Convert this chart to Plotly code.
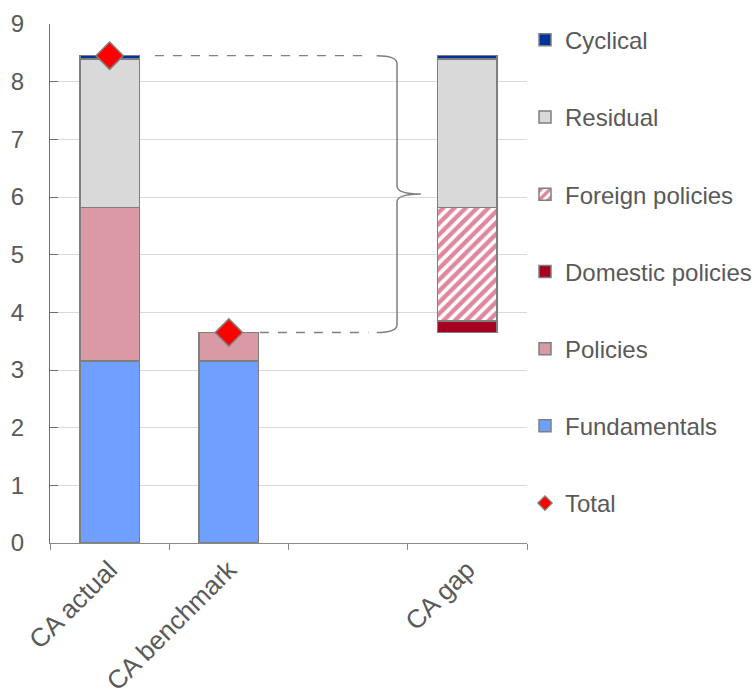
import plotly.graph_objects as go

# Current-account decomposition (% of GDP)
categories = ["CA actual", "CA benchmark", " ", "CA gap"]

gap_base = [None, None, None, 3.65]          # gap bar floats on the benchmark total
fundamentals = [3.16, 3.16, None, None]
policies = [2.66, 0.49, None, None]
domestic_policies = [None, None, None, 0.20]
foreign_policies = [None, None, None, 1.97]
residual = [2.57, None, None, 2.57]
cyclical = [0.06, None, None, 0.06]
total = [8.45, 3.65, None, None]

GRID = "#d9d9d9"
AXIS = "#898989"
EDGE = "#7f7f7f"
TEXT = "#595959"
FONT = "Liberation Sans, Arial, sans-serif"
FS = 24

fig = go.Figure()

fig.add_trace(go.Bar(
    x=categories, y=gap_base, showlegend=False, hoverinfo="skip",
    marker=dict(color="rgba(0,0,0,0)", line=dict(width=0)),
))


def add_bar(name, values, rank, color, pattern=None):
    marker = dict(color=color, line=dict(color=EDGE, width=1.5))
    if pattern:
        marker["pattern"] = pattern
    fig.add_trace(go.Bar(
        x=categories, y=values, name=name, marker=marker,
        legendgroup=name, legendrank=rank,
    ))


add_bar("Fundamentals", fundamentals, 6, "#70a0ff")
add_bar("Policies", policies, 5, "#d99aa5")
add_bar("Domestic policies", domestic_policies, 4, "#a50021")
add_bar("Foreign policies", foreign_policies, 3, "#ffffff",
        pattern=dict(shape="/", fgcolor="#bf1038", bgcolor="#ffffff",
                     size=8, solidity=0.55, fillmode="overlay"))
add_bar("Residual", residual, 2, "#d9d9d9")
add_bar("Cyclical", cyclical, 1, "#003399")

# Totals drawn as large diamonds; a smaller twin carries the legend entry
fig.add_trace(go.Scatter(
    x=categories, y=total, name="Total", mode="markers", showlegend=False,
    legendgroup="Total",
    marker=dict(symbol="diamond", size=21, color="#ff0000",
                line=dict(color=EDGE, width=1.5)),
))
fig.add_trace(go.Scatter(
    x=[None], y=[None], name="Total", mode="markers",
    legendgroup="Total", legendrank=7, hoverinfo="skip",
    marker=dict(symbol="diamond", size=11, color="#ff0000",
                line=dict(color=EDGE, width=1.3)),
))

# Dashed guides from the two totals to the brace
top, bottom = total[0], total[1]
mid = (top + bottom) / 2
guide_end = 2.17
fig.add_shape(type="line", xref="x", yref="y", x0=0.38, x1=guide_end, y0=top, y1=top,
              line=dict(color=EDGE, width=1.3, dash="dash"))
fig.add_shape(type="line", xref="x", yref="y", x0=1.26, x1=guide_end, y0=bottom, y1=bottom,
              line=dict(color=EDGE, width=1.3, dash="dash"))

# Curly brace spanning the gap between the totals
bx0, bx, tip = 2.24, 2.41, 2.61
r = 0.14
brace = (
    f"M {bx0},{top} Q {bx},{top} {bx},{top - r} "
    f"L {bx},{mid + r} Q {bx},{mid} {tip},{mid} "
    f"Q {bx},{mid} {bx},{mid - r} "
    f"L {bx},{bottom + r} Q {bx},{bottom} {bx0},{bottom}"
)
fig.add_shape(type="path", xref="x", yref="y", path=brace,
              line=dict(color=EDGE, width=1.5))

fig.update_layout(
    width=754, height=696,
    margin=dict(l=50, r=227, t=24, b=153, autoexpand=False),
    paper_bgcolor="white", plot_bgcolor="white",
    barmode="stack", bargap=0.5,
    font=dict(family=FONT, size=FS, color=TEXT),
    showlegend=True,
    legend=dict(
        x=0.9958, xanchor="left", y=1.012, yanchor="top",
        traceorder="grouped", tracegroupgap=43, maxheight=690,
        font=dict(family=FONT, size=FS, color=TEXT),
        bgcolor="rgba(0,0,0,0)", itemclick=False,
    ),
    xaxis=dict(
        type="category", categoryorder="array", categoryarray=categories,
        tickson="boundaries", ticks="outside", ticklen=6, tickcolor=AXIS,
        showline=True, linecolor=AXIS, linewidth=1.3,
        showgrid=False, tickangle=-45, automargin=False,
        tickfont=dict(family=FONT, size=26, color=TEXT),
    ),
    yaxis=dict(
        range=[0, 9], dtick=1, showgrid=True, gridcolor=GRID, gridwidth=1.3,
        zeroline=False, showline=True, linecolor="#6e6e6e", linewidth=1.3,
        ticks="inside", ticklen=8, tickcolor="#6e6e6e", tickwidth=1.3,
        ticklabelstandoff=20, automargin=False,
        tickfont=dict(family=FONT, size=FS, color=TEXT),
    ),
)

fig.write_html("out.html")
